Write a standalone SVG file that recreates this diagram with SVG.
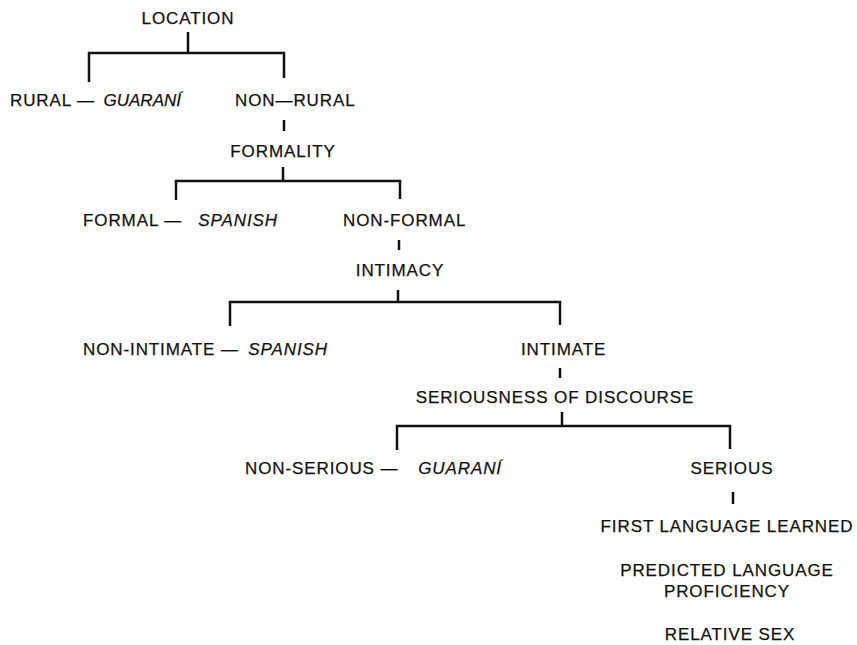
<svg xmlns="http://www.w3.org/2000/svg" width="857" height="645" viewBox="0 0 857 645">
  <style>
    text { font-family: "Liberation Sans", Arial, sans-serif; font-size: 17px; letter-spacing: 0.9px; fill: #111; stroke: #111; stroke-width: 0.25; }
    .it { font-style: italic; text-anchor: end; }
    .tight { letter-spacing: 0; }
    .c { text-anchor: middle; }
    .ln { stroke: #111; stroke-width: 2.5; fill: none; stroke-linecap: butt; }
  </style>
  <rect width="857" height="645" fill="#fff"/>

  <g id="connectors">
    <!-- location split -->
    <path class="ln" d="M188 32 V53 M89 82 V53 H284 V78"/>
    <path class="ln" d="M284 120 V131"/>
    <!-- formality split -->
    <path class="ln" d="M283 167 V181 M176 200 V181 H400 V199"/>
    <path class="ln" d="M399 240 V250"/>
    <!-- intimacy split -->
    <path class="ln" d="M398 290 V302 M230 326 V302 H560 V325"/>
    <path class="ln" d="M560 368 V378"/>
    <!-- seriousness split -->
    <path class="ln" d="M562 412 V426 M397 450 V426 H730 V449"/>
    <path class="ln" d="M733 492 V504"/>
  </g>

  <g id="location"><text x="188" y="24" class="c">LOCATION</text></g>
  <g id="rural">
    <text x="10" y="106">RURAL —</text>
    <text x="181" y="106" class="it tight">GUARANÍ</text>
  </g>
  <g id="non-rural"><text x="235" y="106">NON—RURAL</text></g>

  <g id="formality"><text x="283" y="157" class="c">FORMALITY</text></g>
  <g id="formal">
    <text x="83" y="226">FORMAL —</text>
    <text x="278" y="226" class="it">SPANISH</text>
  </g>
  <g id="non-formal"><text x="343" y="226">NON-FORMAL</text></g>

  <g id="intimacy"><text x="400" y="276" class="c">INTIMACY</text></g>
  <g id="non-intimate">
    <text x="83" y="355">NON-INTIMATE —</text>
    <text x="328" y="355" class="it">SPANISH</text>
  </g>
  <g id="intimate"><text x="521" y="355">INTIMATE</text></g>

  <g id="seriousness"><text x="555" y="403" class="c">SERIOUSNESS OF DISCOURSE</text></g>
  <g id="non-serious">
    <text x="245" y="474">NON-SERIOUS —</text>
    <text x="502" y="474" class="it">GUARANÍ</text>
  </g>
  <g id="serious"><text x="732" y="474" class="c">SERIOUS</text></g>

  <g id="first-language"><text x="727" y="532" class="c">FIRST LANGUAGE LEARNED</text></g>
  <g id="proficiency">
    <text x="727" y="576" class="c">PREDICTED LANGUAGE</text>
    <text x="727" y="597" class="c">PROFICIENCY</text>
  </g>
  <g id="relative-sex"><text x="730" y="640" class="c">RELATIVE SEX</text></g>
</svg>
